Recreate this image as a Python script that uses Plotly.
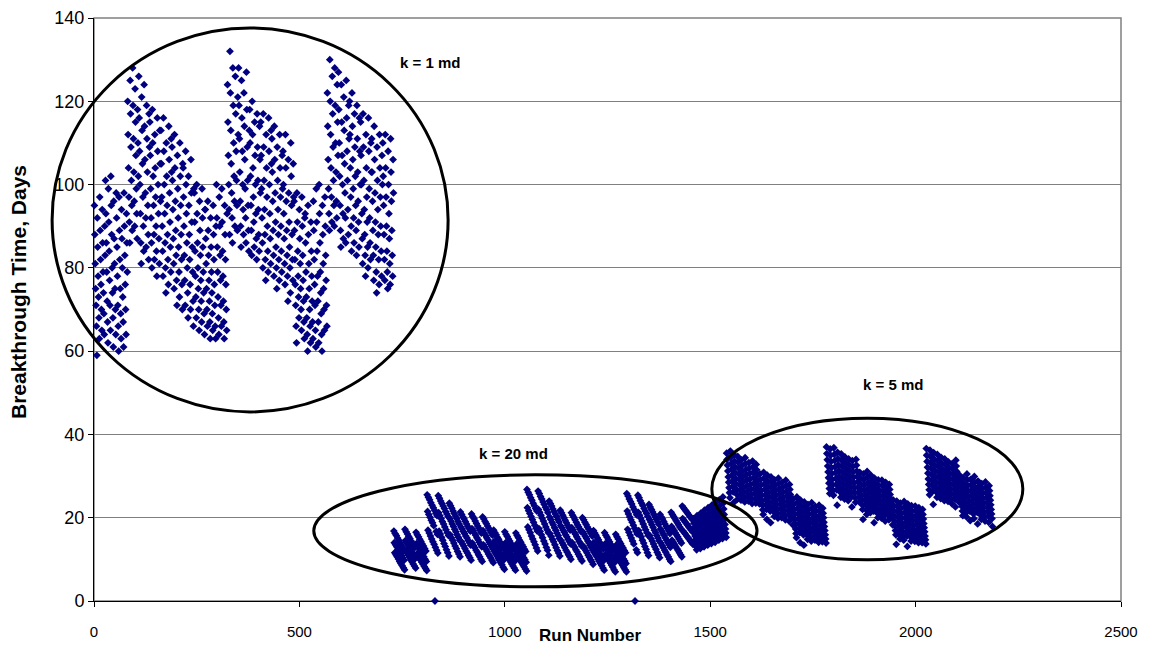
import plotly.graph_objects as go

# ---------------- data ----------------
# Breakthrough time (days) per run, k = 1 md runs (1-729)
k1_times = [
    95, 88, 81, 75, 71, 66, 59, 92, 85, 78, 73, 68, 63, 97, 89, 82, 76, 70, 65, 94, 86, 79, 74, 69, 64, 90, 83,
    101, 93, 86, 79, 72, 67, 62, 99, 91, 84, 77, 71, 65, 102, 95, 88, 80, 74, 68, 61, 96, 87, 81, 75, 70, 64, 98,
    92, 85, 78, 71, 66, 60, 97, 89, 82, 75, 69, 63, 94, 87, 80, 73, 67, 61, 98, 90, 83, 76, 70, 64, 93, 86, 79,
    120, 112, 104, 97, 91, 86, 125, 117, 109, 101, 95, 89, 128, 119, 111, 103, 96, 90, 123, 115, 107, 99, 93, 87, 118, 110, 102,
    126, 116, 108, 100, 93, 86, 81, 121, 113, 105, 97, 90, 84, 124, 114, 106, 98, 92, 85, 119, 111, 103, 95, 88, 82, 117, 109,
    115, 107, 99, 92, 86, 80, 118, 110, 102, 95, 88, 82, 112, 104, 97, 90, 84, 78, 116, 108, 100, 93, 87, 81, 113, 105, 96,
    113, 105, 97, 90, 84, 78, 116, 108, 100, 93, 86, 80, 74, 110, 102, 95, 88, 82, 76, 114, 106, 98, 91, 85, 79, 111, 103,
    109, 101, 94, 87, 81, 75, 112, 104, 96, 89, 83, 77, 71, 107, 99, 92, 85, 79, 73, 110, 102, 95, 88, 82, 76, 70, 105,
    104, 97, 90, 83, 77, 71, 108, 100, 93, 86, 80, 74, 68, 102, 95, 88, 82, 76, 70, 106, 98, 91, 85, 79, 72, 66, 99,
    98, 91, 84, 78, 73, 68, 100, 93, 86, 80, 75, 70, 65, 96, 89, 83, 77, 72, 67, 99, 92, 85, 79, 74, 69, 64, 94,
    94, 87, 81, 75, 70, 66, 96, 89, 83, 77, 72, 67, 63, 92, 85, 79, 74, 69, 65, 95, 88, 82, 76, 71, 66, 63, 90,
    100, 92, 85, 79, 73, 68, 64, 97, 90, 83, 77, 71, 66, 99, 91, 84, 78, 72, 67, 63, 95, 88, 82, 76, 70, 65, 93,
    124, 115, 107, 100, 94, 88, 132, 122, 113, 105, 98, 92, 86, 128, 119, 110, 102, 96, 90, 126, 117, 108, 101, 95, 89, 121, 112,
    128, 119, 111, 103, 96, 90, 85, 125, 116, 108, 100, 94, 88, 122, 114, 106, 99, 92, 86, 127, 118, 109, 101, 95, 89, 84, 113,
    118, 110, 102, 95, 89, 83, 120, 112, 104, 97, 91, 85, 115, 107, 100, 93, 87, 82, 117, 109, 101, 94, 88, 84, 114, 106, 98,
    115, 107, 99, 92, 86, 80, 117, 109, 101, 94, 88, 82, 77, 112, 104, 97, 90, 84, 79, 116, 108, 100, 93, 87, 81, 113, 105,
    111, 103, 96, 89, 83, 78, 114, 106, 98, 91, 85, 80, 75, 109, 101, 94, 88, 82, 77, 112, 104, 97, 90, 84, 79, 107, 99,
    108, 100, 93, 87, 81, 76, 112, 104, 96, 89, 83, 78, 72, 106, 98, 91, 85, 80, 74, 110, 102, 95, 88, 82, 77, 105, 97,
    96, 89, 82, 76, 71, 66, 62, 98, 91, 84, 78, 73, 68, 94, 87, 81, 75, 70, 65, 97, 90, 83, 77, 72, 67, 63, 92,
    93, 86, 79, 73, 68, 64, 60, 95, 88, 81, 75, 70, 66, 62, 91, 84, 78, 72, 67, 63, 96, 89, 82, 76, 71, 65, 61,
    99, 91, 84, 78, 72, 67, 62, 100, 93, 86, 79, 74, 69, 64, 60, 95, 88, 81, 75, 70, 65, 97, 90, 83, 77, 71, 66,
    122, 114, 106, 99, 93, 89, 130, 120, 112, 104, 97, 91, 126, 117, 109, 101, 95, 90, 128, 119, 110, 103, 96, 92, 124, 115, 107,
    127, 118, 110, 102, 95, 89, 85, 124, 115, 107, 100, 93, 87, 121, 113, 105, 98, 92, 86, 125, 116, 108, 101, 94, 88, 119, 111,
    120, 112, 104, 97, 90, 84, 122, 114, 106, 99, 92, 86, 117, 109, 102, 95, 89, 83, 119, 111, 103, 96, 91, 85, 116, 108, 100,
    115, 107, 100, 93, 87, 81, 117, 109, 101, 94, 88, 83, 78, 112, 104, 97, 91, 85, 80, 116, 108, 99, 92, 86, 82, 110, 103,
    111, 103, 96, 89, 83, 77, 114, 106, 98, 91, 85, 79, 74, 109, 101, 94, 88, 82, 76, 112, 104, 97, 90, 84, 78, 107, 100,
    110, 102, 95, 88, 82, 77, 112, 104, 97, 90, 84, 79, 75, 108, 100, 93, 87, 81, 76, 111, 103, 96, 89, 83, 78, 106, 98,
]

# k = 20 md runs (730-1458)
k20_times = [
    # block 1 (low)
    16.8, 14.0, 11.6, 16.2, 13.5, 11.1, 15.7, 13.0, 10.6, 15.1, 12.4, 10.1, 14.6, 11.9, 9.5, 14.0, 11.4, 9.0, 13.5, 10.9, 8.5, 12.9, 10.3, 8.0, 12.4, 9.8, 7.5,
    17.2, 14.5, 12.0, 16.6, 14.0, 11.5, 16.1, 13.4, 11.0, 15.5, 12.9, 10.5, 15.0, 12.3, 9.9, 14.4, 11.8, 9.4, 13.9, 11.3, 8.9, 13.3, 10.7, 8.4, 12.8, 10.2, 7.9,
    16.5, 13.8, 11.3, 15.9, 13.3, 10.8, 15.4, 12.7, 10.3, 14.8, 12.2, 9.8, 14.3, 11.6, 9.3, 13.7, 11.1, 8.8, 13.2, 10.6, 8.3, 12.6, 10.0, 7.8, 12.0, 9.5, 7.3,
    # block 2 (high)
    25.5, 21.5, 17.0, 24.9, 20.8, 16.3, 24.3, 20.1, 15.6, 23.6, 19.4, 14.9, 23.0, 18.8, 14.2, 22.4, 18.1, 13.6, 21.8, 0.0, 12.9, 21.1, 16.7, 12.2, 20.5, 16.0, 11.5,
    25.3, 21.2, 16.8, 24.7, 20.5, 16.1, 24.0, 19.8, 15.3, 23.4, 19.1, 14.6, 22.8, 18.5, 13.8, 22.2, 17.8, 13.1, 21.5, 17.1, 12.3, 20.9, 16.4, 11.6, 20.3, 15.7, 10.8,
    23.5, 19.8, 15.9, 22.9, 19.2, 15.2, 22.3, 18.5, 14.6, 21.6, 17.9, 13.9, 21.0, 17.2, 13.2, 20.4, 16.6, 12.6, 19.8, 15.9, 11.9, 19.1, 15.3, 11.3, 18.5, 14.6, 10.6,
    # block 3 (mid)
    21.4, 17.8, 14.3, 20.8, 17.3, 13.7, 20.2, 16.7, 13.2, 19.7, 16.2, 12.6, 19.1, 15.6, 12.0, 18.5, 15.1, 11.5, 17.9, 14.5, 10.9, 17.4, 14.0, 10.4, 16.8, 13.4, 9.8,
    20.9, 17.4, 13.9, 20.3, 16.9, 13.3, 19.8, 16.3, 12.8, 19.2, 15.8, 12.2, 18.6, 15.2, 11.7, 18.0, 14.7, 11.1, 17.5, 14.1, 10.6, 16.9, 13.6, 10.0, 16.3, 13.0, 9.5,
    20.2, 16.9, 13.5, 19.7, 16.3, 13.0, 19.1, 15.8, 12.4, 18.6, 15.2, 11.9, 18.0, 14.7, 11.3, 17.5, 14.1, 10.8, 16.9, 13.6, 10.3, 16.4, 13.0, 9.7, 15.8, 12.5, 9.2,
    # block 4 (low)
    17.0, 14.3, 11.8, 16.4, 13.8, 11.3, 15.9, 13.2, 10.8, 15.3, 12.7, 10.2, 14.8, 12.1, 9.7, 14.2, 11.6, 9.2, 13.7, 11.0, 8.7, 13.1, 10.5, 8.1, 12.6, 9.9, 7.6,
    16.6, 13.9, 11.5, 16.0, 13.4, 11.0, 15.5, 12.8, 10.5, 14.9, 12.3, 10.0, 14.4, 11.8, 9.4, 13.8, 11.2, 8.9, 13.3, 10.7, 8.4, 12.7, 10.2, 7.9, 12.2, 9.6, 7.4,
    16.3, 13.6, 11.2, 15.7, 13.1, 10.7, 15.2, 12.5, 10.2, 14.6, 12.0, 9.7, 14.1, 11.5, 9.2, 13.5, 10.9, 8.7, 13.0, 10.4, 8.2, 12.4, 9.9, 7.7, 11.9, 9.3, 7.2,
    # block 5 (high)
    26.8, 22.4, 17.8, 26.1, 21.7, 17.1, 25.5, 21.0, 16.4, 24.8, 20.3, 15.6, 24.2, 19.6, 14.9, 23.5, 18.9, 14.2, 22.9, 18.2, 13.5, 22.2, 17.5, 12.7, 21.6, 16.8, 12.0,
    26.4, 22.0, 17.4, 25.8, 21.3, 16.7, 25.1, 20.6, 15.9, 24.5, 19.9, 15.2, 23.8, 19.2, 14.4, 23.2, 18.5, 13.7, 22.5, 17.8, 12.9, 21.9, 17.1, 12.2, 21.2, 16.4, 11.0,
    24.0, 20.2, 16.2, 23.4, 19.6, 15.5, 22.8, 18.9, 14.8, 22.1, 18.3, 14.2, 21.5, 17.6, 13.5, 20.9, 17.0, 12.8, 20.3, 16.3, 12.1, 19.6, 15.7, 11.5, 19.0, 15.0, 10.8,
    # block 6 (mid)
    21.8, 18.1, 14.5, 21.2, 17.6, 13.9, 20.6, 17.0, 13.4, 20.0, 16.5, 12.8, 19.4, 15.9, 12.2, 18.8, 15.4, 11.7, 18.2, 14.8, 11.1, 17.6, 14.3, 10.6, 17.0, 13.7, 10.0,
    21.2, 17.6, 14.0, 20.6, 17.1, 13.4, 20.1, 16.5, 12.9, 19.5, 16.0, 12.3, 18.9, 15.4, 11.8, 18.3, 14.9, 11.2, 17.8, 14.3, 10.7, 17.2, 13.8, 10.1, 16.6, 13.2, 9.6,
    20.0, 16.6, 13.2, 19.5, 16.1, 12.7, 18.9, 15.5, 12.1, 18.4, 15.0, 11.6, 17.8, 14.4, 11.0, 17.3, 13.9, 10.5, 16.7, 13.3, 9.9, 16.2, 12.8, 9.4, 15.6, 12.2, 8.8,
    # block 7 (low)
    16.9, 14.1, 11.6, 16.3, 13.6, 11.1, 15.8, 13.0, 10.6, 15.2, 12.5, 10.0, 14.7, 11.9, 9.5, 14.1, 11.4, 9.0, 13.6, 10.8, 8.5, 13.0, 10.3, 7.9, 12.5, 9.7, 7.4,
    16.4, 13.7, 11.2, 15.8, 13.2, 10.7, 15.3, 12.6, 10.2, 14.7, 12.1, 9.6, 14.2, 11.5, 9.1, 13.6, 11.0, 8.6, 13.1, 10.4, 8.1, 12.5, 9.9, 7.5, 12.0, 9.3, 7.0,
    16.0, 13.4, 11.0, 15.4, 12.9, 10.5, 14.9, 12.3, 10.0, 14.3, 11.8, 9.5, 13.8, 11.2, 9.0, 13.2, 10.7, 8.5, 12.7, 10.1, 8.0, 12.1, 9.6, 7.5, 11.6, 9.0, 7.0,
    # block 8 (high)
    25.8, 21.6, 17.2, 25.2, 20.9, 16.5, 24.5, 20.2, 15.8, 23.9, 19.5, 15.1, 23.3, 18.9, 14.4, 22.6, 18.2, 13.7, 22.0, 17.5, 0.0, 21.4, 16.8, 12.3, 20.7, 16.1, 11.6,
    25.4, 21.3, 16.9, 24.8, 20.6, 16.1, 24.1, 19.9, 15.4, 23.5, 19.2, 14.6, 22.9, 18.5, 13.9, 22.2, 17.8, 13.1, 21.6, 17.1, 12.4, 21.0, 16.4, 11.6, 20.3, 15.7, 10.9,
    23.2, 19.6, 15.7, 22.6, 19.0, 15.0, 22.0, 18.3, 14.4, 21.4, 17.7, 13.7, 20.8, 17.0, 13.0, 20.2, 16.4, 12.4, 19.6, 15.7, 11.7, 19.0, 15.1, 11.1, 18.4, 14.4, 10.4,
    # block 9 (mid, rising)
    20.8, 17.3, 13.9, 20.2, 16.8, 13.3, 19.7, 16.2, 12.8, 19.1, 15.7, 12.2, 18.5, 15.1, 11.7, 17.9, 14.6, 11.1, 17.4, 14.0, 10.6, 16.8, 13.5, 10.0, 16.2, 12.9, 9.5,
    21.3, 17.9, 14.6, 20.8, 17.4, 14.1, 20.3, 16.9, 13.6, 19.8, 16.4, 13.1, 19.3, 15.9, 12.6, 18.8, 15.4, 12.1, 18.3, 14.9, 11.6, 17.8, 14.4, 11.1, 17.3, 13.9, 10.6,
    22.8, 19.8, 16.8, 22.4, 19.4, 16.4, 22.0, 19.0, 16.0, 21.6, 18.6, 15.6, 21.2, 18.2, 15.2, 20.8, 17.8, 14.8, 20.4, 17.4, 14.4, 20.0, 17.0, 14.0, 19.6, 16.6, 13.6,
]

# k = 5 md runs (1459-2187)
k5_times = [
    # block 1 (low, rising)
    19.8, 18.7, 17.6, 16.6, 15.6, 14.7, 13.8, 13.0, 12.3,
    20.5, 19.3, 18.2, 17.1, 16.1, 15.1, 14.2, 13.4, 12.6,
    21.1, 19.9, 18.7, 17.6, 16.6, 15.6, 14.7, 13.8, 13.0,
    21.8, 20.5, 19.3, 18.2, 17.1, 16.1, 15.1, 14.2, 13.4,
    22.4, 21.1, 19.9, 18.7, 17.6, 16.6, 15.6, 14.7, 13.8,
    23.0, 21.7, 20.4, 19.2, 18.1, 17.0, 16.0, 15.0, 14.1,
    23.7, 22.3, 21.0, 19.8, 18.6, 17.5, 16.5, 15.5, 14.6,
    24.3, 22.9, 21.6, 20.3, 19.1, 18.0, 16.9, 15.9, 15.0,
    25.0, 23.5, 22.1, 20.8, 19.6, 18.4, 17.3, 16.3, 15.3,
    # block 2 (high)
    35.5, 34.0, 32.6, 31.2, 29.8, 28.5, 27.2, 26.0, 24.8,
    36.0, 34.5, 33.0, 31.6, 30.2, 28.8, 27.5, 26.2, 23.6,
    35.1, 33.6, 32.2, 30.8, 29.4, 28.1, 26.8, 25.6, 24.4,
    34.7, 33.3, 31.9, 30.5, 29.2, 27.9, 26.6, 25.4, 24.2,
    33.9, 32.5, 31.1, 29.8, 28.5, 27.2, 26.0, 24.8, 23.8,
    34.4, 33.0, 31.6, 30.3, 29.0, 27.7, 26.4, 25.2, 24.0,
    33.2, 31.9, 30.6, 29.3, 28.0, 26.8, 25.6, 24.5, 23.4,
    33.6, 32.2, 30.9, 29.6, 28.3, 27.1, 25.9, 24.7, 23.5,
    32.8, 31.5, 30.2, 29.0, 27.8, 26.6, 25.5, 24.4, 23.3,
    # block 3 (mid)
    30.5, 29.1, 27.8, 26.5, 25.3, 24.1, 23.0, 21.9, 20.8,
    30.9, 29.5, 28.1, 26.8, 25.5, 24.3, 23.1, 22.0, 19.6,
    30.2, 28.8, 27.5, 26.2, 25.0, 23.8, 22.7, 21.6, 18.8,
    29.8, 28.5, 27.2, 26.0, 24.8, 23.6, 22.5, 21.4, 20.3,
    29.1, 27.8, 26.6, 25.4, 24.2, 23.1, 22.0, 20.9, 19.9,
    29.5, 28.2, 26.9, 25.7, 24.5, 23.3, 22.2, 21.1, 20.0,
    28.5, 27.3, 26.1, 24.9, 23.8, 22.7, 21.6, 20.5, 19.5,
    29.0, 27.7, 26.4, 25.2, 24.0, 22.9, 21.8, 20.7, 19.2,
    28.0, 26.8, 25.6, 24.5, 23.4, 22.3, 21.2, 20.1, 18.3,
    # block 4 (low)
    24.5, 23.2, 21.9, 20.7, 19.5, 18.4, 17.3, 16.2, 15.2,
    25.0, 23.6, 22.3, 21.0, 19.8, 18.6, 17.5, 16.4, 14.0,
    24.2, 22.9, 21.6, 20.4, 19.2, 18.1, 17.0, 15.9, 13.4,
    23.8, 22.5, 21.3, 20.1, 19.0, 17.9, 16.8, 15.8, 14.8,
    23.2, 22.0, 20.8, 19.6, 18.5, 17.4, 16.4, 15.4, 14.4,
    23.6, 22.3, 21.1, 19.9, 18.8, 17.7, 16.6, 15.6, 14.6,
    22.7, 21.5, 20.3, 19.2, 18.1, 17.0, 16.0, 15.0, 14.1,
    23.0, 21.8, 20.6, 19.5, 18.4, 17.3, 16.3, 15.3, 14.2,
    22.3, 21.1, 20.0, 18.9, 17.9, 16.9, 15.9, 14.9, 13.9,
    # block 5 (high)
    37.0, 35.4, 33.9, 32.4, 31.0, 29.6, 28.3, 27.0, 25.8,
    36.5, 35.0, 33.5, 32.0, 30.6, 29.2, 27.9, 26.6, 25.4,
    36.8, 35.2, 33.7, 32.2, 30.8, 29.4, 28.0, 26.7, 23.0,
    35.7, 34.2, 32.7, 31.3, 29.9, 28.6, 27.3, 26.1, 24.9,
    35.3, 33.8, 32.3, 30.9, 29.5, 28.2, 26.9, 25.7, 24.5,
    34.6, 33.2, 31.8, 30.4, 29.1, 27.8, 26.5, 25.3, 24.1,
    34.1, 32.7, 31.3, 30.0, 28.7, 27.4, 26.2, 25.0, 22.6,
    33.7, 32.3, 31.0, 29.7, 28.4, 27.2, 26.0, 24.8, 23.7,
    34.0, 32.6, 31.2, 29.9, 28.6, 27.3, 26.1, 24.9, 23.8,
    # block 6 (mid)
    30.9, 29.5, 28.1, 26.8, 25.5, 24.3, 23.1, 22.0, 19.6,
    30.5, 29.1, 27.8, 26.5, 25.3, 24.1, 23.0, 21.9, 20.8,
    31.1, 29.7, 28.3, 27.0, 25.8, 24.6, 23.5, 22.4, 21.2,
    30.2, 28.8, 27.5, 26.2, 25.0, 23.8, 22.7, 21.6, 18.8,
    29.5, 28.2, 26.9, 25.7, 24.5, 23.3, 22.2, 21.1, 20.0,
    29.1, 27.8, 26.6, 25.4, 24.2, 23.1, 22.0, 20.9, 19.9,
    29.0, 27.7, 26.4, 25.2, 24.0, 22.9, 21.8, 20.7, 19.2,
    28.5, 27.3, 26.1, 24.9, 23.8, 22.7, 21.6, 20.5, 19.5,
    28.0, 26.8, 25.6, 24.5, 23.4, 22.3, 21.2, 20.1, 18.3,
    # block 7 (low)
    24.3, 22.9, 21.6, 20.4, 19.2, 18.0, 16.9, 15.9, 13.6,
    24.0, 22.7, 21.4, 20.2, 19.0, 17.9, 16.8, 15.8, 14.9,
    23.5, 22.2, 21.0, 19.8, 18.7, 17.6, 16.6, 15.6, 14.6,
    23.9, 22.6, 21.3, 20.1, 18.9, 17.8, 16.7, 15.6, 13.1,
    23.3, 22.0, 20.8, 19.6, 18.5, 17.4, 16.4, 15.4, 14.4,
    22.9, 21.7, 20.5, 19.4, 18.3, 17.2, 16.2, 15.2, 14.3,
    22.8, 21.6, 20.4, 19.3, 18.2, 17.1, 16.1, 15.1, 14.0,
    22.4, 21.2, 20.0, 18.9, 17.9, 16.9, 15.9, 14.9, 14.0,
    22.0, 20.8, 19.7, 18.6, 17.6, 16.6, 15.6, 14.7, 13.7,
    # block 8 (high)
    36.6, 35.0, 33.5, 32.1, 30.7, 29.3, 28.0, 26.7, 25.5,
    36.2, 34.7, 33.2, 31.8, 30.4, 29.0, 27.7, 26.4, 23.2,
    35.6, 34.1, 32.7, 31.3, 29.9, 28.6, 27.3, 26.1, 24.9,
    35.2, 33.7, 32.3, 30.9, 29.6, 28.3, 27.0, 25.8, 24.6,
    34.5, 33.1, 31.7, 30.4, 29.1, 27.8, 26.5, 25.3, 24.1,
    34.1, 32.7, 31.3, 30.0, 28.7, 27.4, 26.1, 24.9, 23.9,
    33.4, 32.0, 30.7, 29.4, 28.1, 26.9, 25.7, 24.5, 23.4,
    33.0, 31.7, 30.4, 29.1, 27.9, 26.7, 25.5, 24.4, 22.6,
    33.8, 32.4, 31.1, 29.8, 28.5, 27.3, 26.1, 24.9, 23.7,
    # block 9 (mid)
    30.2, 28.8, 27.5, 26.2, 25.0, 23.8, 22.7, 21.6, 20.5,
    29.6, 28.3, 27.0, 25.8, 24.6, 23.4, 22.3, 21.2, 20.2,
    30.5, 29.1, 27.7, 26.4, 25.1, 23.9, 22.7, 21.6, 19.3,
    29.2, 27.9, 26.6, 25.4, 24.2, 23.1, 22.0, 20.9, 19.8,
    29.9, 28.5, 27.2, 25.9, 24.7, 23.5, 22.4, 21.3, 18.5,
    28.8, 27.5, 26.3, 25.1, 23.9, 22.8, 21.7, 20.6, 19.6,
    28.2, 27.0, 25.8, 24.6, 23.5, 22.4, 21.3, 20.2, 19.2,
    28.6, 27.3, 26.1, 24.9, 23.7, 22.6, 21.5, 20.4, 18.9,
    27.7, 26.5, 25.3, 24.2, 23.1, 22.0, 20.9, 19.8, 17.9,
]

x_ticks = [0, 500, 1000, 1500, 2000, 2500]
y_ticks = [0, 20, 40, 60, 80, 100, 120, 140]

# group labels: (text, run, days)
group_labels = [("k = 1 md", 818, 129.4), ("k = 20 md", 1020, 35.5), ("k = 5 md", 1945, 51.9)]
# ellipses around groups: (run0, run1, days0, days1)
group_ellipses = [(-102, 862, 45.4, 137.6), (535, 1614, 3.4, 30.3), (1504, 2261, 9.9, 43.9)]

X_MAX = 2500
Y_MAX = 140

times = k1_times + k20_times + k5_times
runs = list(range(1, len(times) + 1))

FONT = "Liberation Sans, Arial, sans-serif"

fig = go.Figure()
fig.add_trace(go.Scatter(
    x=runs, y=times, mode="markers",
    marker=dict(symbol="diamond", size=6, color="#000080", line=dict(width=0)),
    cliponaxis=False, showlegend=False, hoverinfo="x+y",
))

shapes = [dict(type="rect", xref="paper", yref="paper", x0=0, x1=1, y0=0, y1=1,
               line=dict(color="#808080", width=1.5), layer="below")]
for (a0, a1, b0, b1) in group_ellipses:
    shapes.append(dict(type="circle", xref="paper", yref="paper",
                       x0=a0 / X_MAX, x1=a1 / X_MAX, y0=b0 / Y_MAX, y1=b1 / Y_MAX,
                       line=dict(color="black", width=3), layer="above"))

annotations = []
for (txt, rx, dy) in group_labels:
    annotations.append(dict(x=rx, y=dy, xref="x", yref="y", text="<b>%s</b>" % txt,
                            showarrow=False, font=dict(family=FONT, size=15, color="black")))
annotations.append(dict(x=1207, y=-0.060, xref="x", yref="paper", text="<b>Run Number</b>",
                        showarrow=False, yanchor="middle",
                        font=dict(family=FONT, size=17, color="black")))
annotations.append(dict(x=-0.074, y=0.53, xref="paper", yref="paper",
                        text="<b>Breakthrough Time, Days</b>", textangle=-90,
                        showarrow=False, xanchor="center", yanchor="middle",
                        font=dict(family=FONT, size=21, color="black")))

fig.update_layout(
    width=1153, height=648,
    margin=dict(l=94, r=32, t=18, b=47, autoexpand=False),
    paper_bgcolor="white", plot_bgcolor="white",
    font=dict(family=FONT, color="black"),
    shapes=shapes, annotations=annotations,
    xaxis=dict(range=[0, X_MAX], tickvals=x_ticks, showgrid=False, zeroline=False,
               showline=True, linecolor="black", linewidth=1, ticks="outside",
               ticklen=5, tickcolor="black", ticklabelstandoff=12, automargin=False,
               tickfont=dict(family=FONT, size=15)),
    yaxis=dict(range=[0, Y_MAX], tickvals=y_ticks, showgrid=True, gridcolor="#808080",
               gridwidth=1, zeroline=False, showline=True, linecolor="black", linewidth=1,
               ticks="outside", ticklen=5, tickcolor="black", automargin=False,
               tickfont=dict(family=FONT, size=18)),
)

fig.write_html("out.html")
